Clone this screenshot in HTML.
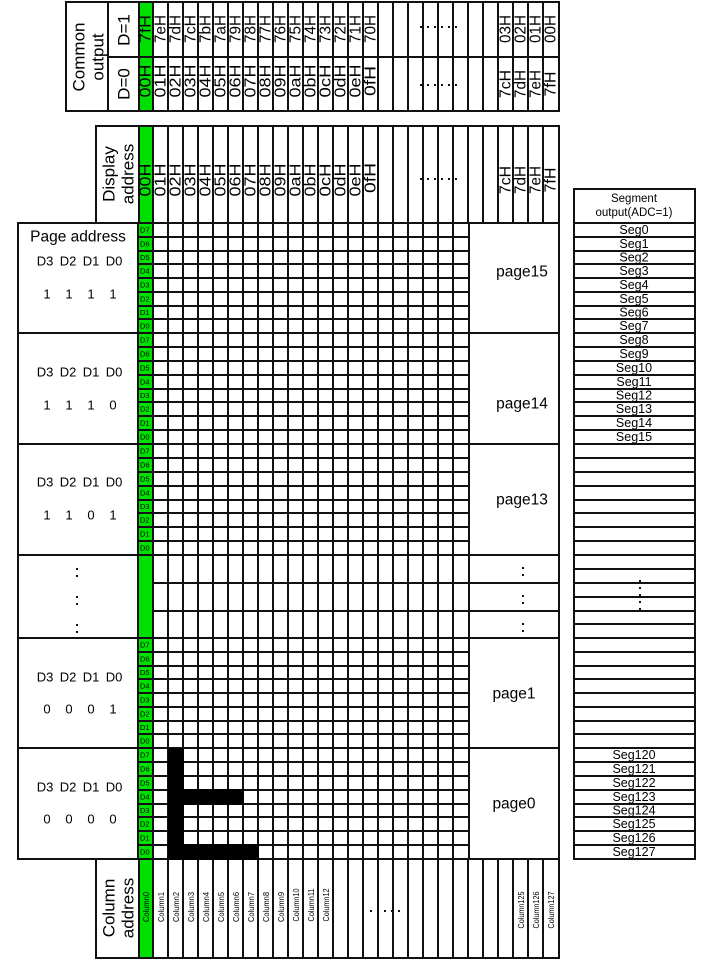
<!DOCTYPE html>
<html><head><meta charset="utf-8"><style>
html,body{margin:0;padding:0;background:#fff;}
svg{display:block;font-family:"Liberation Sans",Arial,sans-serif;}
</style></head><body>
<svg width="715" height="964" viewBox="0 0 715 964" xmlns="http://www.w3.org/2000/svg">
<!-- green fills -->
<rect x="139" y="2" width="14" height="109" fill="#00e000"/>
<rect x="139" y="126" width="14" height="97" fill="#00e000"/>
<rect x="138" y="223" width="15" height="636" fill="#00e000"/>
<rect x="139" y="859" width="14" height="99" fill="#00e000"/>

<g stroke="#111" stroke-width="2" fill="none">
<!-- Common output box -->
<rect x="66" y="2" width="493" height="109"/>
<line x1="108" y1="57" x2="559" y2="57"/>
<line x1="108" y1="2" x2="108" y2="111"/>
<line x1="139" y1="2" x2="139" y2="111"/>
<path d="M153 2V111M168 2V111M183 2V111M198 2V111M213 2V111M228 2V111M243 2V111M258 2V111M273 2V111M288 2V111M303 2V111M318 2V111M333 2V111M348 2V111M363 2V111M378 2V111M393 2V111M408 2V111M423 2V111M438 2V111M453 2V111M468 2V111M483 2V111M498 2V111M513 2V111M528 2V111M543 2V111"/>
<!-- Display address box -->
<rect x="96" y="126" width="463" height="97"/>
<line x1="139" y1="126" x2="139" y2="223"/>
<path d="M153 126V223M168 126V223M183 126V223M198 126V223M213 126V223M228 126V223M243 126V223M258 126V223M273 126V223M288 126V223M303 126V223M318 126V223M333 126V223M348 126V223M363 126V223M378 126V223M393 126V223M408 126V223M423 126V223M438 126V223M453 126V223M468 126V223M483 126V223M498 126V223M513 126V223M528 126V223M543 126V223"/>
<!-- Column address box -->
<rect x="96" y="859" width="463" height="99"/>
<line x1="139" y1="859" x2="139" y2="958"/>
<path d="M153 859V958M168 859V958M183 859V958M198 859V958M213 859V958M228 859V958M243 859V958M258 859V958M273 859V958M288 859V958M303 859V958M318 859V958M333 859V958M348 859V958M363 859V958M378 859V958M393 859V958M408 859V958M423 859V958M438 859V958M453 859V958M468 859V958M483 859V958M498 859V958M513 859V958M528 859V958M543 859V958"/>
<!-- main grid region -->
<rect x="18" y="223" width="541" height="636"/>
<line x1="138" y1="223" x2="138" y2="859"/>
<path d="M153 223V859M168 223V859M183 223V859M198 223V859M213 223V859M228 223V859M243 223V859M258 223V859M273 223V859M288 223V859M303 223V859M318 223V859M333 223V859M348 223V859M363 223V859M378 223V859M393 223V859M408 223V859M423 223V859M438 223V859M453 223V859M469 223V859"/>
<path d="M138 237H469M138 251H469M138 264H469M138 278H469M138 292H469M138 306H469M138 319H469
M138 347H469M138 361H469M138 375H469M138 389H469M138 402H469M138 416H469M138 430H469
M138 458H469M138 472H469M138 486H469M138 500H469M138 513H469M138 527H469M138 541H469
M153 583H559M153 611H559
M138 652H469M138 666H469M138 679H469M138 693H469M138 707H469M138 721H469M138 734H469
M138 762H469M138 776H469M138 790H469M138 804H469M138 817H469M138 831H469M138 845H469"/>
<path d="M18 333H559M18 444H559M18 555H559M18 638H559M18 748H559"/>
<!-- segment box -->
<rect x="574" y="189" width="121" height="670"/>
<path d="M574 223H695M574 237H695M574 251H695M574 264H695M574 278H695M574 292H695M574 306H695M574 319H695M574 333H695
M574 347H695M574 361H695M574 375H695M574 389H695M574 402H695M574 416H695M574 430H695M574 444H695
M574 458H695M574 472H695M574 486H695M574 500H695M574 513H695M574 527H695M574 541H695M574 555H695
M574 569H695M574 583H695M574 597H695M574 611H695M574 624H695M574 638H695
M574 652H695M574 666H695M574 679H695M574 693H695M574 707H695M574 721H695M574 734H695M574 748H695
M574 762H695M574 776H695M574 790H695M574 804H695M574 817H695M574 831H695M574 845H695"/>
</g>

<!-- black L (over grid) -->
<rect x="168" y="748" width="16" height="112" fill="#000"/>
<rect x="168" y="789" width="76" height="16" fill="#000"/>
<rect x="168" y="844" width="91" height="16" fill="#000"/>

<!-- dots -->
<g fill="#111">
<rect x="420" y="26" width="2" height="2"/><rect x="427" y="26" width="2" height="2"/><rect x="434" y="26" width="2" height="2"/><rect x="441" y="26" width="2" height="2"/><rect x="448" y="26" width="2" height="2"/><rect x="455" y="26" width="2" height="2"/>
<rect x="420" y="84" width="2" height="2"/><rect x="427" y="84" width="2" height="2"/><rect x="434" y="84" width="2" height="2"/><rect x="441" y="84" width="2" height="2"/><rect x="448" y="84" width="2" height="2"/><rect x="455" y="84" width="2" height="2"/>
<rect x="420" y="178" width="2" height="2"/><rect x="427" y="178" width="2" height="2"/><rect x="434" y="178" width="2" height="2"/><rect x="441" y="178" width="2" height="2"/><rect x="448" y="178" width="2" height="2"/><rect x="455" y="178" width="2" height="2"/>
<rect x="370" y="910" width="2" height="2"/><rect x="377" y="910" width="2" height="2"/><rect x="384" y="910" width="2" height="2"/><rect x="391" y="910" width="2" height="2"/><rect x="398" y="910" width="2" height="2"/>
<rect x="76" y="568" width="2" height="2"/><rect x="76" y="575" width="2" height="2"/>
<rect x="76" y="596" width="2" height="2"/><rect x="76" y="603" width="2" height="2"/>
<rect x="76" y="624" width="2" height="2"/><rect x="76" y="631" width="2" height="2"/>
<rect x="522" y="567" width="2" height="2"/><rect x="522" y="574" width="2" height="2"/>
<rect x="522" y="595" width="2" height="2"/><rect x="522" y="602" width="2" height="2"/>
<rect x="522" y="623" width="2" height="2"/><rect x="522" y="630" width="2" height="2"/>
<rect x="639" y="580" width="2" height="2"/><rect x="639" y="587" width="2" height="2"/><rect x="639" y="594" width="2" height="2"/><rect x="639" y="601" width="2" height="2"/><rect x="639" y="608" width="2" height="2"/>
</g>

<!-- rotated labels -->
<g fill="#000" font-size="17" text-anchor="middle" dominant-baseline="central">
<text transform="translate(79,57) rotate(-90)">Common</text>
<text transform="translate(98,57) rotate(-90)">output</text>
<text transform="translate(124,30) rotate(-90)">D=1</text>
<text transform="translate(124,84) rotate(-90)">D=0</text>
<text transform="translate(109,174) rotate(-90)">Display</text>
<text transform="translate(128,174) rotate(-90)">address</text>
<text transform="translate(109,908) rotate(-90)">Column</text>
<text transform="translate(128,908) rotate(-90)">address</text>
</g>
<g fill="#000" font-size="16" text-anchor="middle" dominant-baseline="central">
<text transform="translate(146,29) rotate(-90)" textLength="28" lengthAdjust="spacingAndGlyphs">7fH</text>
<text transform="translate(161,29) rotate(-90)" textLength="28" lengthAdjust="spacingAndGlyphs">7eH</text>
<text transform="translate(176,29) rotate(-90)" textLength="28" lengthAdjust="spacingAndGlyphs">7dH</text>
<text transform="translate(191,29) rotate(-90)" textLength="28" lengthAdjust="spacingAndGlyphs">7cH</text>
<text transform="translate(206,29) rotate(-90)" textLength="28" lengthAdjust="spacingAndGlyphs">7bH</text>
<text transform="translate(221,29) rotate(-90)" textLength="28" lengthAdjust="spacingAndGlyphs">7aH</text>
<text transform="translate(236,29) rotate(-90)" textLength="28" lengthAdjust="spacingAndGlyphs">79H</text>
<text transform="translate(251,29) rotate(-90)" textLength="28" lengthAdjust="spacingAndGlyphs">78H</text>
<text transform="translate(266,29) rotate(-90)" textLength="28" lengthAdjust="spacingAndGlyphs">77H</text>
<text transform="translate(281,29) rotate(-90)" textLength="28" lengthAdjust="spacingAndGlyphs">76H</text>
<text transform="translate(296,29) rotate(-90)" textLength="28" lengthAdjust="spacingAndGlyphs">75H</text>
<text transform="translate(311,29) rotate(-90)" textLength="28" lengthAdjust="spacingAndGlyphs">74H</text>
<text transform="translate(326,29) rotate(-90)" textLength="28" lengthAdjust="spacingAndGlyphs">73H</text>
<text transform="translate(341,29) rotate(-90)" textLength="28" lengthAdjust="spacingAndGlyphs">72H</text>
<text transform="translate(356,29) rotate(-90)" textLength="28" lengthAdjust="spacingAndGlyphs">71H</text>
<text transform="translate(371,29) rotate(-90)" textLength="28" lengthAdjust="spacingAndGlyphs">70H</text>
<text transform="translate(506,29) rotate(-90)" textLength="28" lengthAdjust="spacingAndGlyphs">03H</text>
<text transform="translate(521,29) rotate(-90)" textLength="28" lengthAdjust="spacingAndGlyphs">02H</text>
<text transform="translate(536,29) rotate(-90)" textLength="28" lengthAdjust="spacingAndGlyphs">01H</text>
<text transform="translate(551,29) rotate(-90)" textLength="28" lengthAdjust="spacingAndGlyphs">00H</text>
<text transform="translate(146,81) rotate(-90)" textLength="33" lengthAdjust="spacingAndGlyphs">00H</text>
<text transform="translate(161,81) rotate(-90)" textLength="33" lengthAdjust="spacingAndGlyphs">01H</text>
<text transform="translate(176,81) rotate(-90)" textLength="33" lengthAdjust="spacingAndGlyphs">02H</text>
<text transform="translate(191,81) rotate(-90)" textLength="33" lengthAdjust="spacingAndGlyphs">03H</text>
<text transform="translate(206,81) rotate(-90)" textLength="33" lengthAdjust="spacingAndGlyphs">04H</text>
<text transform="translate(221,81) rotate(-90)" textLength="33" lengthAdjust="spacingAndGlyphs">05H</text>
<text transform="translate(236,81) rotate(-90)" textLength="33" lengthAdjust="spacingAndGlyphs">06H</text>
<text transform="translate(251,81) rotate(-90)" textLength="33" lengthAdjust="spacingAndGlyphs">07H</text>
<text transform="translate(266,81) rotate(-90)" textLength="33" lengthAdjust="spacingAndGlyphs">08H</text>
<text transform="translate(281,81) rotate(-90)" textLength="33" lengthAdjust="spacingAndGlyphs">09H</text>
<text transform="translate(296,81) rotate(-90)" textLength="33" lengthAdjust="spacingAndGlyphs">0aH</text>
<text transform="translate(311,81) rotate(-90)" textLength="33" lengthAdjust="spacingAndGlyphs">0bH</text>
<text transform="translate(326,81) rotate(-90)" textLength="33" lengthAdjust="spacingAndGlyphs">0cH</text>
<text transform="translate(341,81) rotate(-90)" textLength="33" lengthAdjust="spacingAndGlyphs">0dH</text>
<text transform="translate(356,81) rotate(-90)" textLength="33" lengthAdjust="spacingAndGlyphs">0eH</text>
<text transform="translate(371,81) rotate(-90)" textLength="30" lengthAdjust="spacingAndGlyphs">0fH</text>
<text transform="translate(506,84) rotate(-90)" textLength="28" lengthAdjust="spacingAndGlyphs">7cH</text>
<text transform="translate(521,84) rotate(-90)" textLength="28" lengthAdjust="spacingAndGlyphs">7dH</text>
<text transform="translate(536,84) rotate(-90)" textLength="28" lengthAdjust="spacingAndGlyphs">7eH</text>
<text transform="translate(551,84) rotate(-90)" textLength="25" lengthAdjust="spacingAndGlyphs">7fH</text>
<text transform="translate(146,180) rotate(-90)" textLength="33" lengthAdjust="spacingAndGlyphs">00H</text>
<text transform="translate(161,180) rotate(-90)" textLength="33" lengthAdjust="spacingAndGlyphs">01H</text>
<text transform="translate(176,180) rotate(-90)" textLength="33" lengthAdjust="spacingAndGlyphs">02H</text>
<text transform="translate(191,180) rotate(-90)" textLength="33" lengthAdjust="spacingAndGlyphs">03H</text>
<text transform="translate(206,180) rotate(-90)" textLength="33" lengthAdjust="spacingAndGlyphs">04H</text>
<text transform="translate(221,180) rotate(-90)" textLength="33" lengthAdjust="spacingAndGlyphs">05H</text>
<text transform="translate(236,180) rotate(-90)" textLength="33" lengthAdjust="spacingAndGlyphs">06H</text>
<text transform="translate(251,180) rotate(-90)" textLength="33" lengthAdjust="spacingAndGlyphs">07H</text>
<text transform="translate(266,180) rotate(-90)" textLength="33" lengthAdjust="spacingAndGlyphs">08H</text>
<text transform="translate(281,180) rotate(-90)" textLength="33" lengthAdjust="spacingAndGlyphs">09H</text>
<text transform="translate(296,180) rotate(-90)" textLength="33" lengthAdjust="spacingAndGlyphs">0aH</text>
<text transform="translate(311,180) rotate(-90)" textLength="33" lengthAdjust="spacingAndGlyphs">0bH</text>
<text transform="translate(326,180) rotate(-90)" textLength="33" lengthAdjust="spacingAndGlyphs">0cH</text>
<text transform="translate(341,180) rotate(-90)" textLength="33" lengthAdjust="spacingAndGlyphs">0dH</text>
<text transform="translate(356,180) rotate(-90)" textLength="33" lengthAdjust="spacingAndGlyphs">0eH</text>
<text transform="translate(371,178) rotate(-90)" textLength="30" lengthAdjust="spacingAndGlyphs">0fH</text>
<text transform="translate(506,180) rotate(-90)" textLength="28" lengthAdjust="spacingAndGlyphs">7cH</text>
<text transform="translate(521,180) rotate(-90)" textLength="28" lengthAdjust="spacingAndGlyphs">7dH</text>
<text transform="translate(536,180) rotate(-90)" textLength="28" lengthAdjust="spacingAndGlyphs">7eH</text>
<text transform="translate(551,180) rotate(-90)" textLength="25" lengthAdjust="spacingAndGlyphs">7fH</text>
</g>
<g fill="#000" font-size="8.5" text-anchor="middle" dominant-baseline="central">
<text transform="translate(146,907) rotate(-90)" textLength="30" lengthAdjust="spacingAndGlyphs">Column0</text>
<text transform="translate(161,907) rotate(-90)" textLength="30" lengthAdjust="spacingAndGlyphs">Column1</text>
<text transform="translate(176,907) rotate(-90)" textLength="30" lengthAdjust="spacingAndGlyphs">Column2</text>
<text transform="translate(191,907) rotate(-90)" textLength="30" lengthAdjust="spacingAndGlyphs">Column3</text>
<text transform="translate(206,907) rotate(-90)" textLength="30" lengthAdjust="spacingAndGlyphs">Column4</text>
<text transform="translate(221,907) rotate(-90)" textLength="30" lengthAdjust="spacingAndGlyphs">Column5</text>
<text transform="translate(236,907) rotate(-90)" textLength="30" lengthAdjust="spacingAndGlyphs">Column6</text>
<text transform="translate(251,907) rotate(-90)" textLength="30" lengthAdjust="spacingAndGlyphs">Column7</text>
<text transform="translate(266,907) rotate(-90)" textLength="30" lengthAdjust="spacingAndGlyphs">Column8</text>
<text transform="translate(281,907) rotate(-90)" textLength="30" lengthAdjust="spacingAndGlyphs">Column9</text>
<text transform="translate(296,905) rotate(-90)" textLength="33" lengthAdjust="spacingAndGlyphs">Column10</text>
<text transform="translate(311,905) rotate(-90)" textLength="33" lengthAdjust="spacingAndGlyphs">Column11</text>
<text transform="translate(326,905) rotate(-90)" textLength="33" lengthAdjust="spacingAndGlyphs">Column12</text>
<text transform="translate(521,910) rotate(-90)" textLength="37" lengthAdjust="spacingAndGlyphs">Column125</text>
<text transform="translate(536,910) rotate(-90)" textLength="37" lengthAdjust="spacingAndGlyphs">Column126</text>
<text transform="translate(551,910) rotate(-90)" textLength="37" lengthAdjust="spacingAndGlyphs">Column127</text>
</g>

<g fill="#000" font-size="7.5" dominant-baseline="central">
<text x="140" y="230">D7</text><text x="140" y="244">D6</text><text x="140" y="257.5">D5</text><text x="140" y="271">D4</text><text x="140" y="285">D3</text><text x="140" y="299">D2</text><text x="140" y="312.5">D1</text><text x="140" y="326">D0</text>
<text x="140" y="340">D7</text><text x="140" y="354">D6</text><text x="140" y="368">D5</text><text x="140" y="382">D4</text><text x="140" y="395.5">D3</text><text x="140" y="409">D2</text><text x="140" y="423">D1</text><text x="140" y="437">D0</text>
<text x="140" y="451">D7</text><text x="140" y="465">D6</text><text x="140" y="479">D5</text><text x="140" y="493">D4</text><text x="140" y="506.5">D3</text><text x="140" y="520">D2</text><text x="140" y="534">D1</text><text x="140" y="548">D0</text>
<text x="140" y="645">D7</text><text x="140" y="659">D6</text><text x="140" y="672.5">D5</text><text x="140" y="686">D4</text><text x="140" y="700">D3</text><text x="140" y="714">D2</text><text x="140" y="727.5">D1</text><text x="140" y="741">D0</text>
<text x="140" y="755">D7</text><text x="140" y="769">D6</text><text x="140" y="783">D5</text><text x="140" y="797">D4</text><text x="140" y="810.5">D3</text><text x="140" y="824">D2</text><text x="140" y="838">D1</text><text x="140" y="852">D0</text>
</g>

<g fill="#000" text-anchor="middle" dominant-baseline="central">
<text x="78" y="237" font-size="15.5">Page address</text>
<g font-size="13">
<text x="45" y="261">D3</text><text x="68" y="261">D2</text><text x="91" y="261">D1</text><text x="114" y="261">D0</text>
<text x="47" y="294">1</text><text x="69" y="294">1</text><text x="91" y="294">1</text><text x="113" y="294">1</text>
<text x="45" y="372">D3</text><text x="68" y="372">D2</text><text x="91" y="372">D1</text><text x="114" y="372">D0</text>
<text x="47" y="405">1</text><text x="69" y="405">1</text><text x="91" y="405">1</text><text x="113" y="405">0</text>
<text x="45" y="482">D3</text><text x="68" y="482">D2</text><text x="91" y="482">D1</text><text x="114" y="482">D0</text>
<text x="47" y="515">1</text><text x="69" y="515">1</text><text x="91" y="515">0</text><text x="113" y="515">1</text>
<text x="45" y="677">D3</text><text x="68" y="677">D2</text><text x="91" y="677">D1</text><text x="114" y="677">D0</text>
<text x="47" y="709">0</text><text x="69" y="709">0</text><text x="91" y="709">0</text><text x="113" y="709">1</text>
<text x="45" y="787">D3</text><text x="68" y="787">D2</text><text x="91" y="787">D1</text><text x="114" y="787">D0</text>
<text x="47" y="819">0</text><text x="69" y="819">0</text><text x="91" y="819">0</text><text x="113" y="819">0</text>
</g>
<g font-size="15.5">
<text x="522" y="272">page15</text>
<text x="522" y="404">page14</text>
<text x="522" y="500">page13</text>
<text x="514" y="694">page1</text>
<text x="514" y="804">page0</text>
</g>
<g font-size="11.5">
<text x="634" y="199">Segment</text>
<text x="634" y="213">output(ADC=1)</text>
</g>
<g font-size="12.5">
<text x="634" y="230">Seg0</text><text x="634" y="244">Seg1</text><text x="634" y="257.5">Seg2</text><text x="634" y="271">Seg3</text><text x="634" y="285">Seg4</text><text x="634" y="299">Seg5</text><text x="634" y="312.5">Seg6</text><text x="634" y="326">Seg7</text>
<text x="634" y="340">Seg8</text><text x="634" y="354">Seg9</text><text x="634" y="368">Seg10</text><text x="634" y="382">Seg11</text><text x="634" y="395.5">Seg12</text><text x="634" y="409">Seg13</text><text x="634" y="423">Seg14</text><text x="634" y="437">Seg15</text>
<text x="634" y="755">Seg120</text><text x="634" y="769">Seg121</text><text x="634" y="783">Seg122</text><text x="634" y="797">Seg123</text><text x="634" y="810.5">Seg124</text><text x="634" y="824">Seg125</text><text x="634" y="838">Seg126</text><text x="634" y="852">Seg127</text>
</g>
</g>
</svg>
</body></html>
